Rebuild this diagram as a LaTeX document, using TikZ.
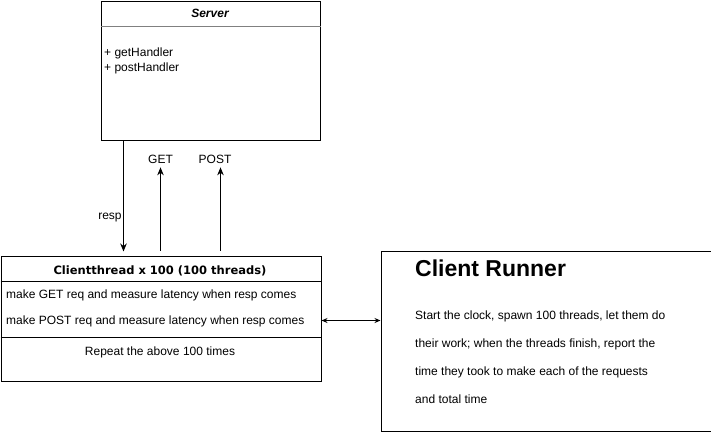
\documentclass[tikz,border=0pt]{standalone}
\usepackage{fontspec}
\setmainfont{Liberation Sans}
\newfontfamily\djv{DejaVu Sans}
\usetikzlibrary{arrows.meta}
\tikzset{
  box/.style={draw, line width=1pt, anchor=north west, inner sep=0pt},
  txt/.style={anchor=base west, inner sep=0pt, font=\fontsize{12}{14}\selectfont},
  ctxt/.style={anchor=base, inner sep=0pt, font=\fontsize{12}{14}\selectfont},
  arr/.style={line width=1pt, -{Stealth[length=8pt,width=6.5pt]}},
  darr/.style={line width=1pt, {Stealth[length=6pt,width=5pt]}-{Stealth[length=6pt,width=5pt]}},
}
\begin{document}
\begin{tikzpicture}[x=1pt,y=-1pt]
\useasboundingbox (0,0) rectangle (711,432);
% Server
\node[box, minimum width=219pt, minimum height=139pt] (server) at (100.5,0.5) {};
\draw[line width=1pt, gray] (server.north west) ++(0,26) coordinate (shl) -- (shl -| server.east);
\node[ctxt, font=\fontsize{12}{14}\selectfont\bfseries\itshape] (stitle) at (210,17) {Server};
\node[txt] (m1) at (104,56) {+ getHandler};
\node[txt] (m2) at (104,71) {+ postHandler};
% Clientthread
\node[box, minimum width=320pt, minimum height=125pt] (ct) at (0.5,255.5) {};
\draw[line width=1pt] (ct.north west) ++(0,26) coordinate (chl) -- (chl -| ct.east);
\draw[line width=1pt] (ct.north west) ++(0,82) coordinate (csl) -- (csl -| ct.east);
\node[ctxt, font=\djv\fontsize{11.5}{13}\selectfont\bfseries] (cttitle) at (160,274) {Clientthread x 100 (100 threads)};
\node[txt] (l1) at (6,298) {make GET req and measure latency when resp comes};
\node[txt] (l2) at (6,324) {make POST req and measure latency when resp comes};
\node[ctxt] (l3) at (160,355) {Repeat the above 100 times};
% Client Runner
\node[box, minimum width=330pt, minimum height=180pt] (cr) at (380.5,250.5) {};
\node[anchor=base west, inner sep=0pt, font=\fontsize{23}{26}\selectfont\bfseries] (crtitle) at (415,276) {Client Runner};
\node[txt] (r1) at (415,319) {Start the clock, spawn 100 threads, let them do};
\node[txt] (r2) at (415,347) {their work; when the threads finish, report the};
\node[txt] (r3) at (415,375) {time they took to make each of the requests};
\node[txt] (r4) at (415,403) {and total time};
% labels
\node[ctxt] (get) at (160.5,163) {GET};
\node[ctxt] (post) at (215,163) {POST};
\node[ctxt] (resp) at (110,219) {resp};
% connectors
\coordinate (rx) at (123.5,0);
\coordinate (gx) at (160.5,0);
\coordinate (px) at (220.5,0);
\draw[arr, shorten >=4pt] (server.south -| rx) -- (ct.north -| rx);
\draw[arr, shorten <=5pt, shorten >=4pt] (ct.north -| gx) -- (get.south -| gx);
\draw[arr, shorten <=5pt, shorten >=4pt] (ct.north -| px) -- (post.south -| px);
\coordinate (dy) at (0,320.5);
\draw[darr] (ct.east |- dy) -- (cr.west |- dy);
\end{tikzpicture}
\end{document}
